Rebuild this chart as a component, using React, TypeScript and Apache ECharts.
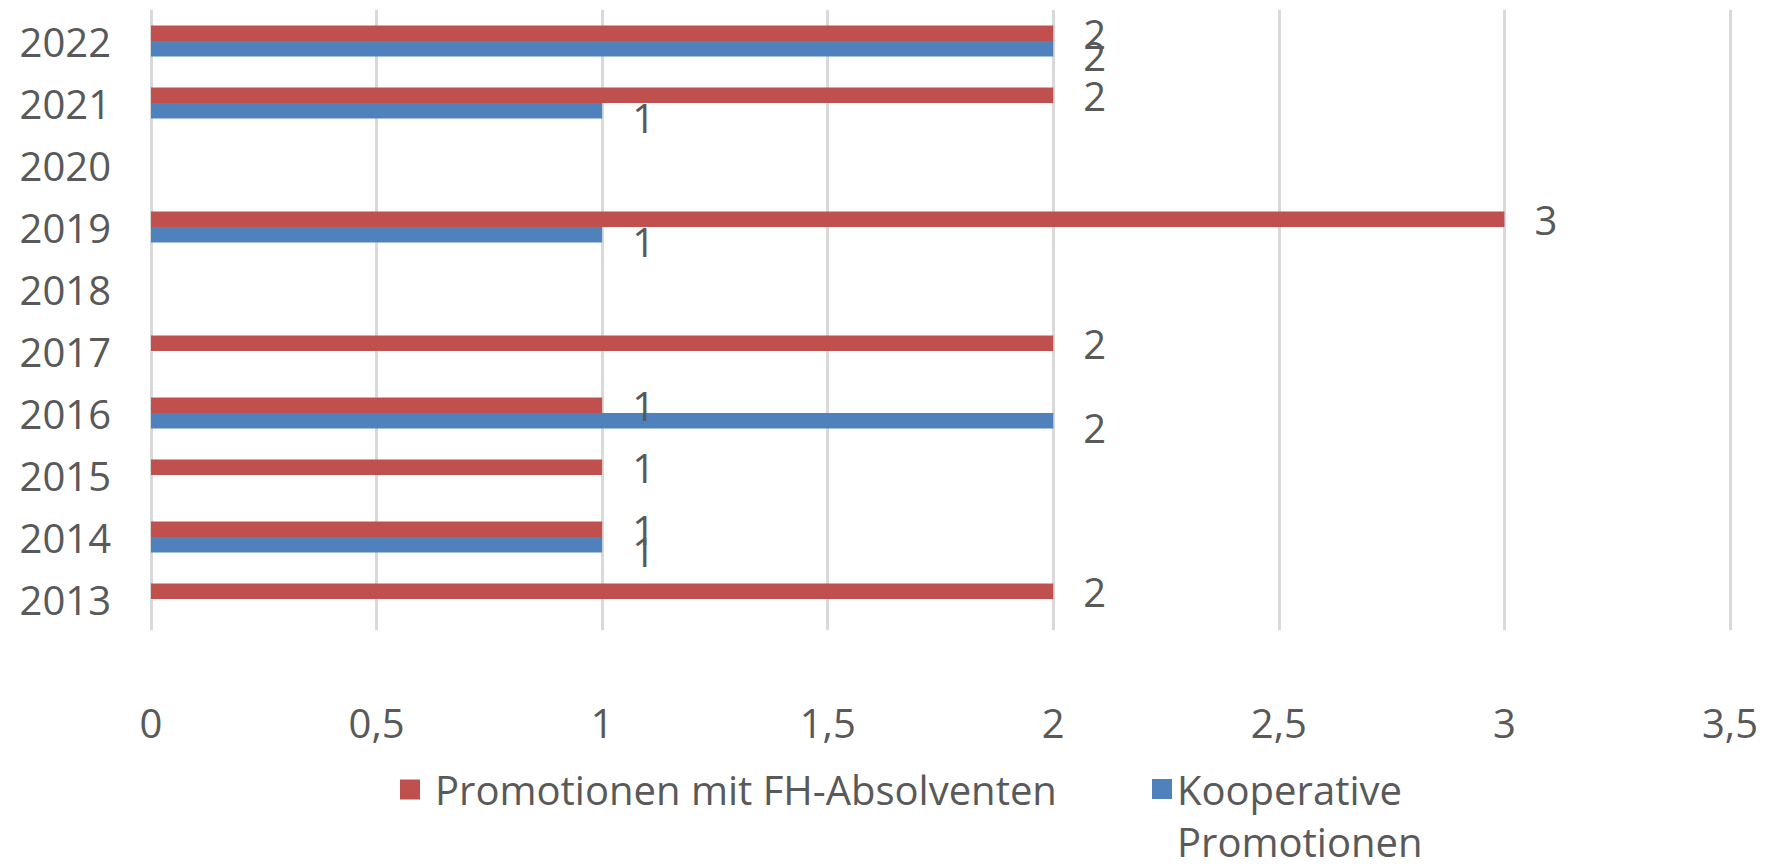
import React, { useEffect, useRef } from "react";
import * as echarts from "echarts";

const years = ["2013", "2014", "2015", "2016", "2017", "2018", "2019", "2020", "2021", "2022"];
const fhAbsolventen: (number | null)[] = [2, 1, 1, 1, 2, null, 3, null, 2, 2];
const kooperative: (number | null)[] = [null, 1, null, 2, null, null, 1, null, 1, 2];
const seriesNames = ["Promotionen mit FH-Absolventen", "Kooperative Promotionen"];
const xMin = 0;
const xMax = 3.5;
const xStep = 0.5;

const TEXT = "#595959";
const FONT = "'Open Sans', 'Noto Sans', sans-serif";

export default function App() {
  const ref = useRef<HTMLDivElement>(null);
  useEffect(() => {
    if (!ref.current) return;
    const chart = echarts.init(ref.current, undefined, { renderer: "svg" });
    chart.setOption({
      animation: false,
      backgroundColor: "#ffffff",
      textStyle: { fontFamily: FONT },
      grid: { left: 151, right: 44, top: 10, bottom: 237, containLabel: false },
      xAxis: {
        type: "value",
        min: xMin,
        max: xMax,
        interval: xStep,
        axisLine: { show: false },
        axisTick: { show: false },
        splitLine: { show: true, lineStyle: { color: "#d9d9d9", width: 3 } },
        axisLabel: {
          color: TEXT,
          fontSize: 40,
          fontFamily: FONT,
          margin: 72,
          formatter: (v: number) => String(v).replace(".", ","),
        },
      },
      yAxis: {
        type: "category",
        data: years,
        axisLine: { show: false },
        axisTick: { show: false },
        splitLine: { show: false },
        axisLabel: { color: TEXT, fontSize: 40, fontFamily: FONT, margin: 40 },
      },
      legend: [
        {
          data: [seriesNames[0]],
          left: 395,
          top: 757,
          itemWidth: 20,
          itemHeight: 20,
          icon: "rect",
          textStyle: { color: TEXT, fontSize: 40, fontFamily: FONT, lineHeight: 55, padding: [0, 0, 0, 10] },
        },
        {
          data: [seriesNames[1]],
          left: 1147,
          top: 706,
          itemWidth: 20,
          itemHeight: 20,
          icon: "rect",
          formatter: () => "{s| }\n{t|Kooperative}\n{t|Promotionen}",
          textStyle: {
            color: TEXT,
            fontSize: 40,
            fontFamily: FONT,
            lineHeight: 52,
            rich: {
              s: { fontSize: 40, lineHeight: 52, fontFamily: FONT },
              t: { color: TEXT, fontSize: 40, lineHeight: 52, fontFamily: FONT },
            },
          },
        },
      ],
      series: [
        {
          name: seriesNames[0],
          type: "bar",
          data: fhAbsolventen,
          barWidth: 15.5,
          barGap: "0%",
          itemStyle: { color: "#C0504D" },
          label: { show: true, position: "right", distance: 30, color: TEXT, fontSize: 40, fontFamily: FONT },
        },
        {
          name: seriesNames[1],
          type: "bar",
          data: kooperative,
          barWidth: 15.5,
          barGap: "0%",
          itemStyle: { color: "#4F81BD" },
          label: { show: true, position: "right", distance: 30, color: TEXT, fontSize: 40, fontFamily: FONT, offset: [0, 7] },
        },
      ],
    });
    return () => chart.dispose();
  }, []);
  return <div ref={ref} style={{ width: 1774, height: 867, margin: -8 }} />;
}
